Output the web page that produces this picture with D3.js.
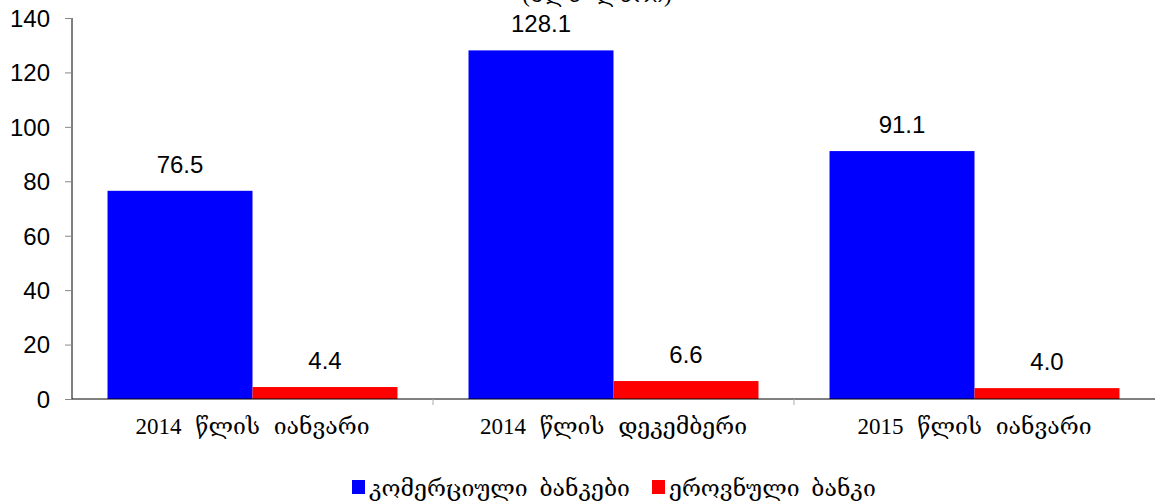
<!DOCTYPE html>
<html>
<head>
<meta charset="utf-8">
<script src="https://cdn.jsdelivr.net/npm/d3@7"></script>
<style>
  body { margin: 0; background: #fff; }
  svg { display: block; }
  .num { font-family: "Liberation Sans", Arial, sans-serif; font-size: 24px; fill: #000; }
  .geo { font-family: "Liberation Serif", "DejaVu Serif", serif; font-size: 23px; fill: #000; }
</style>
</head>
<body>
<svg width="1155" height="504"></svg>
<script>
// data
var categories = ["2014 წლის იანვარი", "2014 წლის დეკემბერი", "2015 წლის იანვარი"];
var seriesNames = ["კომერციული ბანკები", "ეროვნული ბანკი"];
var commercial = [76.5, 128.1, 91.1];
var national = [4.4, 6.6, 4.0];
var yTicks = [0, 20, 40, 60, 80, 100, 120, 140];
var colors = ["#0000ff", "#ff0000"];
var title = "(მლნ ლარი)";

var svg = d3.select("svg"),
    mLeft = 72, mRight = 1155, mTop = 18, mBottom = 399;

var x0 = d3.scaleBand().domain(categories).range([mLeft, mRight]).paddingInner(0).paddingOuter(0);
var x1 = d3.scaleBand().domain([0, 1]).range([0, x0.bandwidth()]).paddingOuter(0.245).paddingInner(0);
var y = d3.scaleLinear().domain([0, 140]).range([mBottom, mTop]);

// clipped title at the very top
svg.append("text").attr("class", "geo")
   .attr("x", 597).attr("y", 2)
   .attr("text-anchor", "middle")
   .attr("word-spacing", 8)
   .text(title);

// y axis
var yAxis = svg.append("g")
   .attr("transform", "translate(" + mLeft + ",0)")
   .call(d3.axisLeft(y).tickValues(yTicks).tickSize(7).tickPadding(15).tickFormat(d3.format("d")));
yAxis.select(".domain").attr("stroke", "#000").attr("d", "M0," + mTop + "V" + mBottom);
yAxis.selectAll(".tick line").attr("stroke", "#888");
yAxis.selectAll(".tick text").attr("class", "num").attr("font-size", null).attr("font-family", null).attr("dy", "0.35em");

// bars
var groups = svg.selectAll(".grp")
   .data(categories)
   .enter().append("g")
   .attr("transform", function(d) { return "translate(" + x0(d) + ",0)"; });

groups.selectAll("rect")
   .data(function(d, i) { return [commercial[i], national[i]]; })
   .enter().append("rect")
   .attr("x", function(d, j) { return x1(j); })
   .attr("y", function(d) { return y(d); })
   .attr("width", x1.bandwidth())
   .attr("height", function(d) { return mBottom - y(d); })
   .attr("fill", function(d, j) { return colors[j]; });

groups.selectAll(".val")
   .data(function(d, i) { return [commercial[i], national[i]]; })
   .enter().append("text")
   .attr("class", "num")
   .attr("text-anchor", "middle")
   .attr("x", function(d, j) { return x1(j) + x1.bandwidth() / 2; })
   .attr("y", function(d) { return y(d) - 18; })
   .text(function(d) { return d.toFixed(1); });

// x axis
var xAxis = svg.append("g")
   .attr("transform", "translate(0," + mBottom + ")");
xAxis.append("line").attr("x1", mLeft).attr("x2", mRight).attr("stroke", "#000");
xAxis.selectAll(".tk")
   .data(categories.slice(1))
   .enter().append("line")
   .attr("x1", function(d) { return x0(d); })
   .attr("x2", function(d) { return x0(d); })
   .attr("y1", 0).attr("y2", 6)
   .attr("stroke", "#aaa");
xAxis.selectAll(".lbl")
   .data(categories)
   .enter().append("text")
   .attr("class", "geo")
   .attr("text-anchor", "middle")
   .attr("word-spacing", 8)
   .attr("x", function(d) { return x0(d) + x0.bandwidth() / 2; })
   .attr("y", 35)
   .text(function(d) { return d; });

// legend
var legend = svg.append("g").attr("transform", "translate(352,480)");
var lx = [0, 300];
seriesNames.forEach(function(n, i) {
  legend.append("rect").attr("x", lx[i]).attr("y", 0).attr("width", 13).attr("height", 14).attr("fill", colors[i]);
  legend.append("text").attr("class", "geo").attr("word-spacing", 6).attr("x", lx[i] + 17).attr("y", 16).text(n);
});
</script>
</body>
</html>
